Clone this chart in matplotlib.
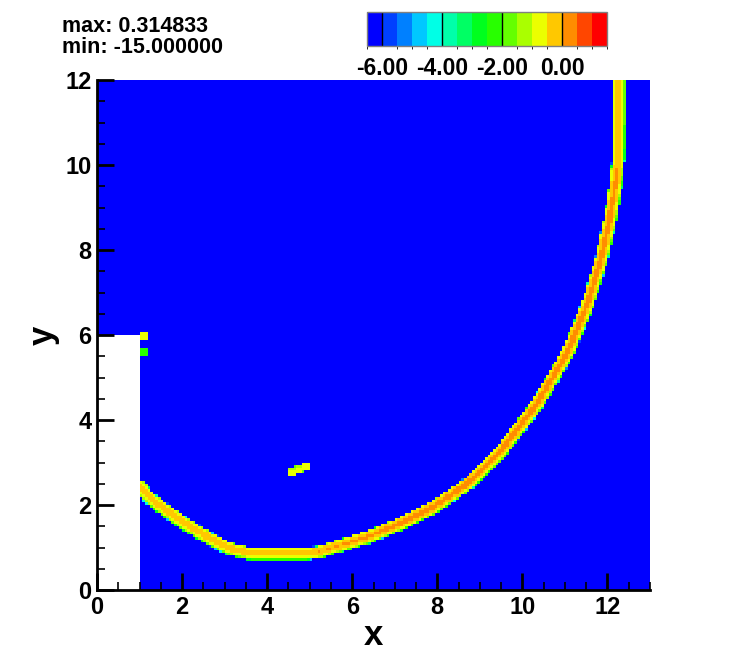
import numpy as np
import matplotlib
matplotlib.use("Agg")
import matplotlib.pyplot as plt
from matplotlib.colors import ListedColormap, BoundaryNorm
import matplotlib.colorbar as mcolorbar
from matplotlib.ticker import MultipleLocator

plt.rcParams['font.family'] = ['Liberation Sans', 'DejaVu Sans']
plt.rcParams['font.weight'] = 'bold'
plt.rcParams['axes.unicode_minus'] = False

# ---- data ----
# interface curve (level-set band) points
curve_x = [1.00, 1.25, 1.56, 2.07, 2.66, 3.13, 3.55, 4.20, 4.78, 5.20, 5.55, 6.35, 7.13, 7.90,
           8.70, 9.48, 10.35, 11.06, 11.53, 11.85, 12.05, 12.18, 12.24, 12.26, 12.26]
curve_y = [2.45, 2.17, 1.93, 1.57, 1.22, 0.98, 0.88, 0.87, 0.87, 0.90, 1.01, 1.25, 1.57, 1.95,
           2.50, 3.25, 4.40, 5.60, 6.75, 7.80, 8.70, 9.50, 10.10, 11.00, 12.10]
curve_peak = [0.0, -0.02, -0.02, -0.02, -0.02, -0.02, -0.02, -0.02, -0.02, 0.05, 0.12, 0.2, 0.28, 0.3,
              0.3, 0.3, 0.3, 0.3, 0.3, 0.3, 0.3, 0.25, -0.02, -0.05, -0.05]
# cross-band profile: signed distance (+ = outer side) -> depth below the local peak
prof_s = [-0.155, -0.13, -0.095, -0.055, 0.0, 0.055, 0.095, 0.13, 0.165, 0.185]
prof_depth = [15.0, 1.2, 0.7, 0.3, 0.0, 0.3, 0.7, 1.2, 2.7, 15.0]
# isolated small spots
spot_x = [1.09, 1.09, 4.60, 4.75, 4.90]
spot_y = [5.97, 5.58, 2.76, 2.82, 2.90]
spot_v = [-0.7, -2.3, -0.7, -0.7, -0.7]
spot_half = [0.085, 0.08, 0.1, 0.1, 0.1]
# solid (blank) region
solid_x = [0.0, 1.0]
solid_y = [0.0, 6.0]
field_min = -15.0
field_max = 0.314833

# contour levels / colours
cb_bounds = [-6.25, -6.0, -5.5, -5.0, -4.5, -4.0, -3.5, -3.0, -2.5, -2.0, -1.5, -1.0,
             -0.5, 0.0, 0.5, 1.0, 1.25]
cb_colors = ['#0000ff', '#0040ff', '#0080ff', '#00c8ff', '#00ffe6', '#00ffaa', '#00ff64',
             '#00ff1e', '#28ff00', '#64ff00', '#aaff00', '#ebff00', '#ffc800', '#ff8c00',
             '#ff4600', '#ff0000']
cb_ticks = [-6.0, -4.0, -2.0, 0.0]

# ---- build field on a grid ----
dx = 0.0625
xe = np.arange(0, 13 + 1e-9, dx)
ye = np.arange(0, 12 + 1e-9, dx)
xc = 0.5 * (xe[:-1] + xe[1:])
yc = 0.5 * (ye[:-1] + ye[1:])
X, Y = np.meshgrid(xc, yc)
P = np.stack([X.ravel(), Y.ravel()], axis=1)

cx = np.array(curve_x); cy = np.array(curve_y); cp = np.array(curve_peak)
best_d = np.full(P.shape[0], np.inf)
best_s = np.zeros(P.shape[0])
best_p = np.zeros(P.shape[0])
for i in range(len(cx) - 1):
    a = np.array([cx[i], cy[i]]); b = np.array([cx[i + 1], cy[i + 1]])
    d = b - a
    L2 = d @ d
    t = np.clip(((P - a) @ d) / L2, 0, 1)
    proj = a + t[:, None] * d
    v = P - proj
    dist = np.hypot(v[:, 0], v[:, 1])
    cross = d[0] * (P[:, 1] - a[1]) - d[1] * (P[:, 0] - a[0])
    upd = dist < best_d
    best_d[upd] = dist[upd]
    best_s[upd] = np.where(cross[upd] < 0, 1, -1) * dist[upd]
    best_p[upd] = cp[i] + t[upd] * (cp[i + 1] - cp[i])

depth = np.interp(best_s, prof_s, prof_depth, left=15, right=15)
Z = (best_p - depth).reshape(X.shape)

for sx, sy, sv, sh in zip(spot_x, spot_y, spot_v, spot_half):
    cheb = np.maximum(np.abs(X - sx), np.abs(Y - sy)) / sh
    zs = np.interp(cheb, [0, 0.75, 1.0, 1.01], [sv, sv, -2.3, field_min])
    Z = np.maximum(Z, zs)

Z = np.clip(Z, field_min, field_max)
mask = (X < solid_x[1]) & (Y < solid_y[1])
Zm = np.ma.masked_where(mask, Z)

cmap = ListedColormap(cb_colors)
cmap.set_under('#0000ff')
cmap.set_over('#ff0000')
norm = BoundaryNorm(cb_bounds, cmap.N)

# ---- figure ----
fig = plt.figure(figsize=(7.47, 6.65), dpi=100)
ax = fig.add_axes([97 / 747, 1 - 590 / 665, 553 / 747, 510 / 665])
ax.pcolormesh(xe, ye, Zm, cmap=cmap, norm=norm, shading='flat')
ax.set_xlim(0, 13)
ax.set_ylim(0, 12)
for sp in ['top', 'right']:
    ax.spines[sp].set_visible(False)
for sp in ['left', 'bottom']:
    ax.spines[sp].set_linewidth(2)
ax.xaxis.set_major_locator(MultipleLocator(2))
ax.yaxis.set_major_locator(MultipleLocator(2))
ax.xaxis.set_minor_locator(MultipleLocator(0.5))
ax.yaxis.set_minor_locator(MultipleLocator(0.5))
ax.tick_params(which='major', direction='in', length=12, width=2, labelsize=17, pad=4)
ax.tick_params(which='minor', direction='in', length=6, width=1.2)
ax.tick_params(top=False, right=False, which='both')
for lab in ax.get_xticklabels() + ax.get_yticklabels():
    lab.set_fontweight('bold')
ax.set_xlabel('x', fontsize=25, fontweight='bold', labelpad=0)
ax.set_ylabel('y', fontsize=25, fontweight='bold', labelpad=4)

fig.text(62 / 747, 1 - 16 / 665, 'max: %.6f\nmin: %.6f' % (field_max, field_min),
         fontsize=15.5, fontweight='bold', ha='left', va='top', linespacing=1.0)

cax = fig.add_axes([367 / 747, 1 - 46 / 665, 240 / 747, 34 / 665])
cb = mcolorbar.ColorbarBase(cax, cmap=ListedColormap(cb_colors), norm=norm,
                            boundaries=cb_bounds, orientation='horizontal',
                            ticks=cb_ticks, format='%.2f')
cb.outline.set_edgecolor('#808080')
cb.outline.set_linewidth(1)
cax.tick_params(length=0, labelsize=16.5, pad=8)
for lab in cax.get_xticklabels():
    lab.set_fontweight('bold')
for t in cb_ticks:
    cax.axvline(t, color='black', lw=1)

fig.savefig('out.png', dpi=100)
